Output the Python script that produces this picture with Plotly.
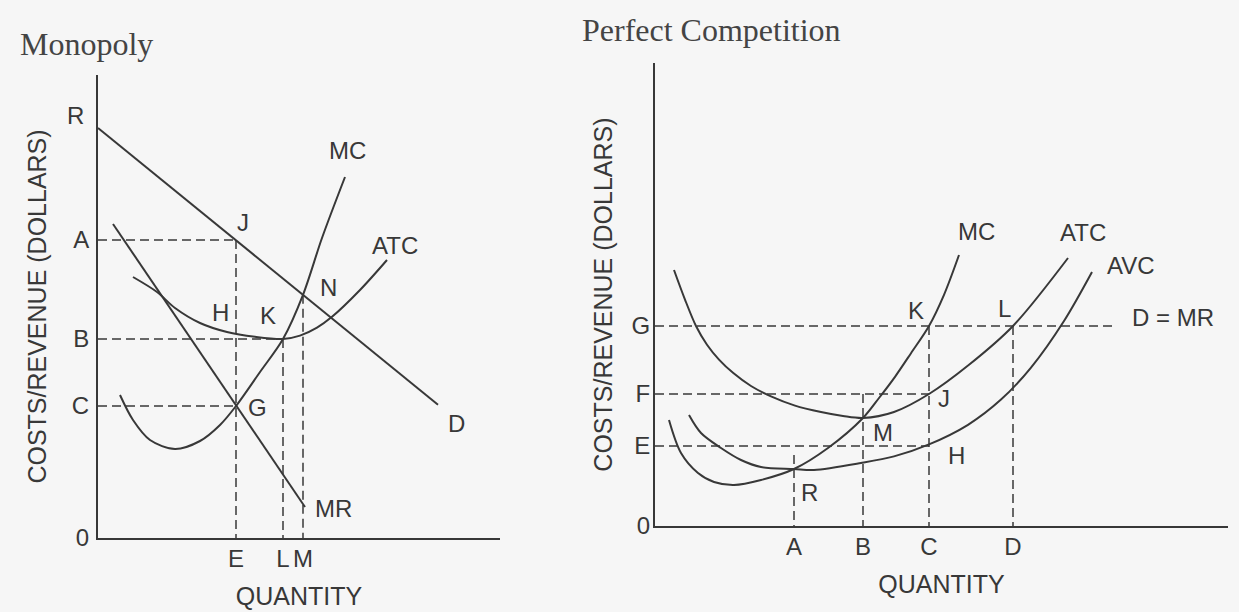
import plotly.graph_objects as go

# ---------------- Monopoly panel (left) ----------------
# price levels / quantities marked on the axes
mono_price_ticks = ["A", "B", "C", "0"]
mono_price_vals = [74.5, 49.75, 33.0, 0.0]
mono_R = 102.5
mono_qty_ticks = ["E", "L", "M"]
mono_qty_vals = [34.5, 46.25, 51.25]
mono_N = 60.8

# demand curve D (straight line)
mono_D_q = [0.0, 85.0]
mono_D_p = [102.5, 33.3]
# marginal revenue MR (straight line)
mono_MR_q = [3.75, 51.75]
mono_MR_p = [78.5, 7.75]
# marginal cost MC
mono_MC_q = [5.5, 8.75, 13.0, 19.25, 25.5, 30.5, 34.5, 40.5, 46.25, 51.25, 56.0, 61.75]
mono_MC_p = [35.75, 29.5, 24.5, 22.25, 24.25, 28.25, 33.0, 41.5, 49.75, 60.8, 75.0, 90.25]
# average total cost ATC
mono_ATC_q = [8.75, 14.75, 19.25, 25.5, 32.25, 39.25, 46.25, 50.5, 54.75, 58.5, 65.5, 72.25]
mono_ATC_p = [65.25, 61.5, 57.5, 53.75, 51.5, 50.3, 49.75, 50.6, 52.6, 55.3, 62.0, 69.5]

# ---------------- Perfect competition panel (right) ----------------
pc_price_ticks = ["G", "F", "E", "0"]
pc_price_vals = [50.0, 33.0, 20.0, 0.0]
pc_qty_ticks = ["A", "B", "C", "D"]
pc_qty_vals = [34.75, 52.0, 68.5, 89.5]
pc_R = 14.25
pc_A_line_top = 17.75
pc_DMR_end = 114.5

pc_ATC_q = [4.75, 7.5, 10.25, 13.0, 16.0, 19.5, 24.0, 29.0, 35.0, 41.5, 47.0, 52.0,
            59.75, 68.5, 78.5, 89.5, 103.25]
pc_ATC_p = [64.0, 56.6, 50.0, 45.3, 41.6, 38.3, 35.0, 32.4, 30.1, 28.5, 27.5, 27.0,
            28.5, 33.0, 40.3, 50.0, 67.0]
pc_MC_q = [3.5, 6.5, 10.75, 14.75, 19.75, 26.5, 34.75, 43.25, 52.0, 56.0, 60.0, 64.0, 68.5, 72.25, 76.0]
pc_MC_p = [26.5, 18.25, 13.25, 11.0, 10.25, 11.5, 14.25, 19.5, 27.0, 32.0, 37.3, 43.2, 50.0, 57.8, 67.75]
pc_AVC_q = [8.5, 11.5, 16.5, 21.5, 26.5, 34.75, 39.75, 51.5, 59.75, 68.5, 78.25, 86.5, 94.0, 102.25, 109.25]
pc_AVC_p = [27.75, 23.25, 19.5, 16.5, 14.75, 14.25, 14.0, 15.75, 17.4, 20.4, 25.3, 31.6, 39.6, 51.25, 63.5]

# ---------------- styling ----------------
INK = "#383838"
BG = "#f6f6f6"
SANS = "Liberation Sans, Arial, sans-serif"
SERIF = "Liberation Serif, Times New Roman, serif"
W, H = 1239, 612

fig = go.Figure()


def curve(q, p, xa, ya, spline=True):
    fig.add_trace(go.Scatter(
        x=q, y=p, mode="lines", xaxis=xa, yaxis=ya, showlegend=False, hoverinfo="skip",
        line=dict(color=INK, width=2, shape="spline" if spline else "linear", smoothing=0.9),
    ))


def dashed(q, p, xa, ya):
    fig.add_trace(go.Scatter(
        x=q, y=p, mode="lines", xaxis=xa, yaxis=ya, showlegend=False, hoverinfo="skip",
        line=dict(color=INK, width=1.5, dash="9px,5px"),
    ))


# ---- monopoly ----
mA, mB, mC, _ = mono_price_vals
mE, mL, mM = mono_qty_vals
dashed([0, mE], [mA, mA], "x", "y")
dashed([0, mL], [mB, mB], "x", "y")
dashed([0, mE], [mC, mC], "x", "y")
dashed([mE, mE], [mA, 0], "x", "y")
dashed([mL, mL], [mB, 0], "x", "y")
dashed([mM, mM], [mono_N, 0], "x", "y")
curve(mono_D_q, mono_D_p, "x", "y", spline=False)
curve(mono_MR_q, mono_MR_p, "x", "y", spline=False)
curve(mono_MC_q, mono_MC_p, "x", "y")
curve(mono_ATC_q, mono_ATC_p, "x", "y")

# ---- perfect competition ----
pG, pF, pE, _ = pc_price_vals
qA, qB, qC, qD = pc_qty_vals
dashed([0, pc_DMR_end], [pG, pG], "x2", "y2")
dashed([0, qC], [pF, pF], "x2", "y2")
dashed([0, qC], [pE, pE], "x2", "y2")
dashed([qA, qA], [pc_A_line_top, 0], "x2", "y2")
dashed([qB, qB], [pF, 0], "x2", "y2")
dashed([qC, qC], [pG, 0], "x2", "y2")
dashed([qD, qD], [pG, 0], "x2", "y2")
curve(pc_ATC_q, pc_ATC_p, "x2", "y2")
curve(pc_MC_q, pc_MC_p, "x2", "y2")
curve(pc_AVC_q, pc_AVC_p, "x2", "y2")

# ---- axes ----
tickfont = dict(family=SANS, size=24, color=INK)
titlefont = dict(family=SANS, size=25, color=INK)
common = dict(showgrid=False, zeroline=False, showline=True, linecolor=INK, linewidth=2,
              ticks="outside", tickcolor="rgba(0,0,0,0)", tickfont=tickfont, fixedrange=True,
              automargin=False)

fig.update_layout(
    width=W, height=H, margin=dict(l=0, r=0, t=0, b=0, autoexpand=False),
    paper_bgcolor=BG, plot_bgcolor="rgba(0,0,0,0)", showlegend=False,
    xaxis=dict(domain=[98 / W, 500 / W], range=[0, 100.5], tickvals=mono_qty_vals,
               ticktext=mono_qty_ticks, ticklen=0, ticklabelstandoff=-2,
               title=dict(text="QUANTITY", font=titlefont, standoff=17), **common),
    yaxis=dict(domain=[1 - 538 / H, 1 - 75 / H], range=[0, 115.75], tickvals=mono_price_vals,
               ticktext=mono_price_ticks, ticklen=2,
               title=dict(text="COSTS/REVENUE (DOLLARS)", font=titlefont, standoff=18), **common),
    xaxis2=dict(domain=[655 / W, 1228 / W], range=[0, 143.25], tickvals=pc_qty_vals,
                ticktext=pc_qty_ticks, ticklen=0, ticklabelstandoff=-2, anchor="y2",
                title=dict(text="QUANTITY", font=titlefont, standoff=17), **common),
    yaxis2=dict(domain=[1 - 526 / H, 1 - 63 / H], range=[0, 115.75], tickvals=pc_price_vals,
                ticktext=pc_price_ticks, ticklen=0, ticklabelstandoff=-2, anchor="x2",
                title=dict(text="COSTS/REVENUE (DOLLARS)", font=titlefont, standoff=12), **common),
)

# ---- labels ----
lab = dict(showarrow=False, font=dict(family=SANS, size=24, color=INK))
fig.add_annotation(text="R", x=0, y=mono_R, xref="x", yref="y", xanchor="right",
                   xshift=-12, yshift=13, **lab)
mono_labels = [("J", 36.25, 79.0), ("H", 30.5, 56.5), ("K", 42.5, 55.75),
               ("N", 57.5, 62.75), ("G", 39.75, 32.75), ("MC", 62.25, 97.0), ("ATC", 74.25, 73.25),
               ("D", 89.5, 28.75), ("MR", 58.75, 7.5)]
for t, x, y in mono_labels:
    fig.add_annotation(text=t, x=x, y=y, xref="x", yref="y", **lab)

pc_labels = [("MC", 80.25, 73.5), ("ATC", 107.0, 73.25), ("AVC", 119.0, 65.25),
             ("D = MR", 129.5, 52.25), ("K", 65.25, 54.0), ("L", 87.25, 54.5), ("J", 72.25, 32.0),
             ("M", 57.0, 23.5), ("H", 75.25, 17.75), ("R", 38.5, 8.5)]
for t, x, y in pc_labels:
    fig.add_annotation(text=t, x=x, y=y, xref="x2", yref="y2", **lab)

# ---- panel titles ----
fig.add_annotation(text="Monopoly", x=18 / W, y=1 - 44 / H, xref="paper", yref="paper",
                   xanchor="left", yanchor="middle", showarrow=False,
                   font=dict(family=SERIF, size=32, color="#444444"))
fig.add_annotation(text="Perfect Competition", x=580 / W, y=1 - 30 / H, xref="paper", yref="paper",
                   xanchor="left", yanchor="middle", showarrow=False,
                   font=dict(family=SERIF, size=32, color="#444444"))

fig.write_html(
    "out.html",
    config={"displayModeBar": False},
    post_script="document.body.style.margin='0px';document.body.style.background='#f6f6f6';",
)
